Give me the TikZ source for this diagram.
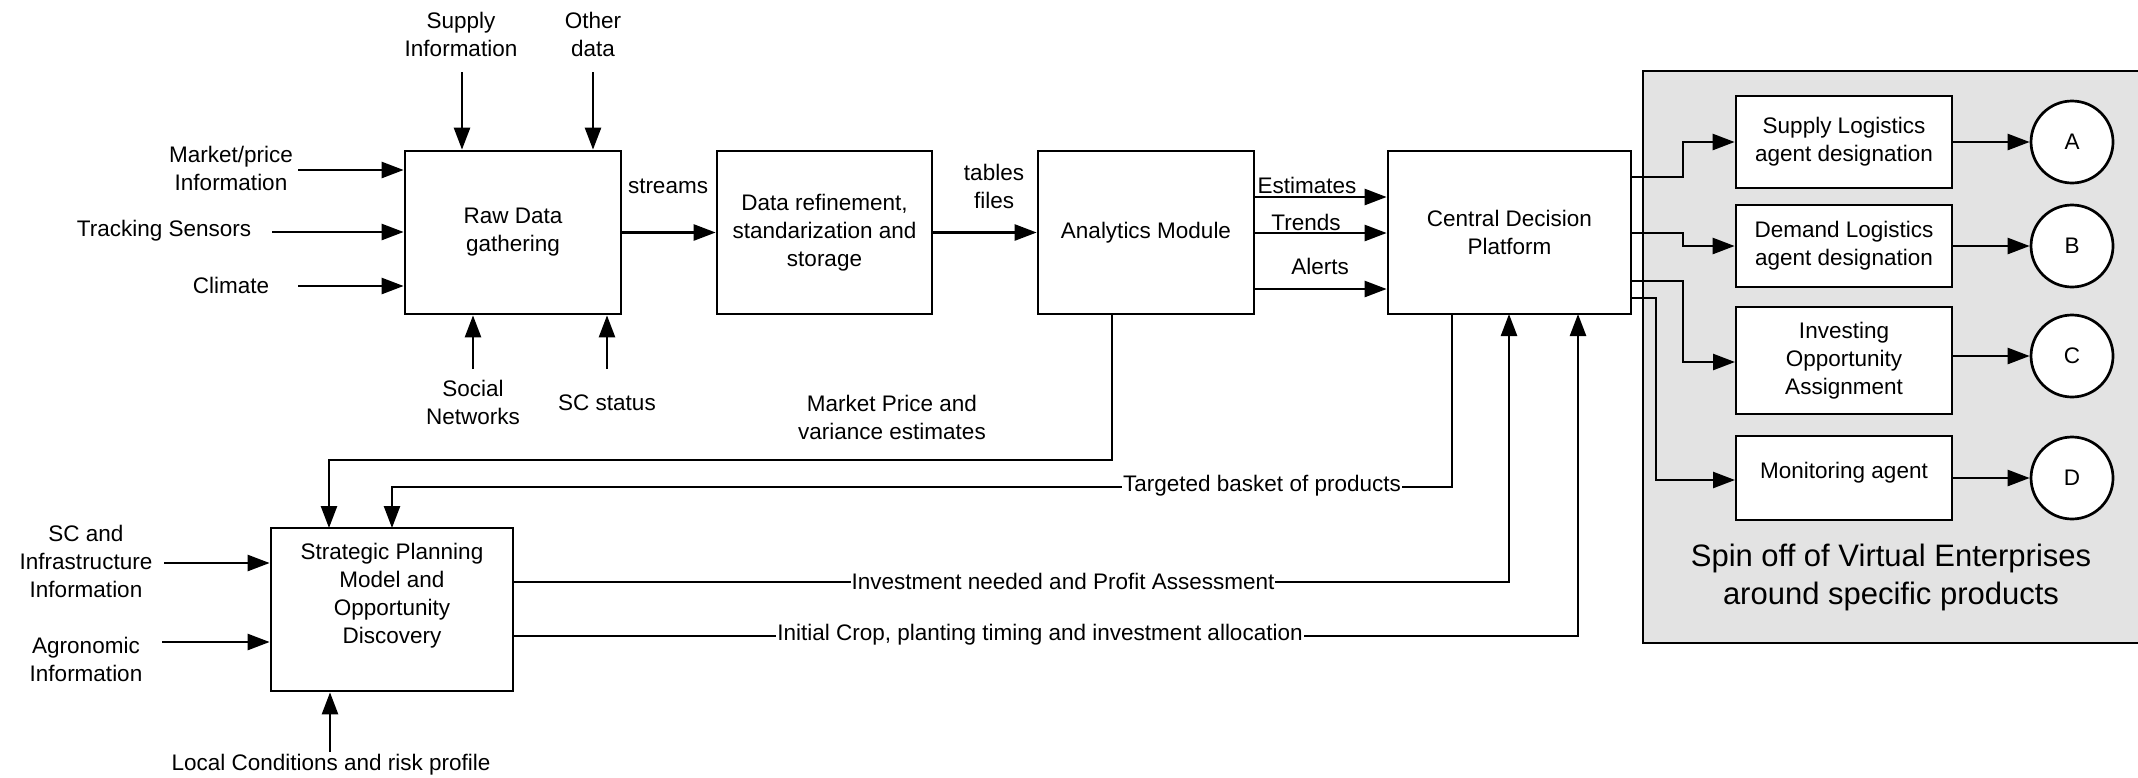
\documentclass[tikz,border=0pt]{standalone}
\usepackage{fontspec}
\setmainfont{Liberation Sans}
\usetikzlibrary{arrows.meta,positioning}
\definecolor{panelgrey}{HTML}{E3E3E3}
\tikzset{
  every node/.style={font=\fontsize{22.5}{28}\selectfont, inner sep=0pt},
  blk/.style={draw, line width=2.7pt, fill=white, align=center},
  circ/.style={draw, line width=2.7pt, fill=white, circle, minimum size=82pt},
  lbl/.style={align=center},
  arr/.style={line width=2.5pt, -{Triangle[length=22pt,width=16pt]}},
  ln/.style={line width=2.5pt},
  onl/.style={fill=white, inner xsep=1pt, inner ysep=2pt}
}
\begin{document}
\begin{tikzpicture}[x=1pt,y=-1pt]
\useasboundingbox (0,0) rectangle (2138,777);
% grey panel
\fill[panelgrey] (1643,71) rectangle (2138,643);
\draw[line width=2.7pt] (2140,71) -- (1643,71) -- (1643,643) -- (2140,643);
\node[lbl, font=\fontsize{31}{38}\selectfont] (spin) at (1891,577) {Spin off of Virtual Enterprises\\around specific products};

% main boxes
\node[blk, minimum width=216pt, minimum height=163pt] (raw) at (513,232.5) {Raw Data\\gathering};
\node[blk, minimum width=215pt, minimum height=163pt] (ref) at (824.5,232.5) {Data refinement,\\standarization and\\storage};
\node[blk, minimum width=216pt, minimum height=163pt] (ana) at (1146,232.5) {Analytics Module};
\node[blk, minimum width=243pt, minimum height=163pt] (cdp) at (1509.5,232.5) {Central Decision\\Platform};
\node[blk, minimum width=242pt, minimum height=163pt] (spm) at (392,609.5) {Strategic Planning\\Model and\\Opportunity\\Discovery\\[0.2em]};

% agent boxes
\node[blk, minimum width=216pt, minimum height=92pt] (sup) at (1844,142) {Supply Logistics\\agent designation};
\node[blk, minimum width=216pt, minimum height=82pt] (dem) at (1844,246) {Demand Logistics\\agent designation};
\node[blk, minimum width=216pt, minimum height=107pt] (inv) at (1844,360.5) {Investing\\Opportunity\\Assignment};
\node[blk, minimum width=216pt, minimum height=84pt] (mon) at (1844,478) {};
\node[lbl] (monl) at (1844,473) {Monitoring agent};
\node[circ] (A) at (2072,142) {A};
\node[circ] (B) at (2072,246) {B};
\node[circ] (C) at (2072,356) {C};
\node[circ] (D) at (2072,478) {D};

% input labels for raw data
\node[lbl] (mkt) at (231,168) {Market/price\\Information};
\node[lbl] (trk) at (164,231) {Tracking Sensors};
\node[lbl] (cli) at (231,285) {Climate};
\node[lbl] (supi) at (461,34) {Supply\\Information};
\node[lbl] (oth) at (593,34) {Other\\data};
\node[lbl] (soc) at (473,402) {Social\\Networks};
\node[lbl] (scs) at (607,403) {SC status};
\coordinate (mktS) at (298,170);
\coordinate (trkS) at (272,232);
\coordinate (cliS) at (298,286);
\coordinate (supS) at (462,72);
\coordinate (othS) at (593,72);
\coordinate (socS) at (473,369);
\coordinate (scsS) at (607,369);
\draw[arr] (mktS) -- (mktS -| raw.west);
\draw[arr] (trkS) -- (trkS -| raw.west);
\draw[arr] (cliS) -- (cliS -| raw.west);
\draw[arr] (supS) -- (supS |- raw.north);
\draw[arr] (othS) -- (othS |- raw.north);
\draw[arr] (socS) -- (socS |- raw.south);
\draw[arr] (scsS) -- (scsS |- raw.south);

% main flow
\draw[arr] (raw.east) -- (ref.west);
\node[lbl] (streams) at (668,186) {streams};
\draw[arr] (ref.east) -- (ana.west);
\node[lbl] (tables) at (994,186) {tables\\files};
\coordinate (e1) at (1254,197);
\coordinate (e2) at (1254,233);
\coordinate (e3) at (1254,289);
\draw[arr] (e1) -- (e1 -| cdp.west);
\draw[arr] (e2) -- (e2 -| cdp.west);
\draw[arr] (e3) -- (e3 -| cdp.west);
\node[lbl] (est) at (1307,185) {Estimates};
\node[lbl] (trn) at (1306,222) {Trends};
\node[lbl] (alr) at (1320,266) {Alerts};

% central to agents
\coordinate (o1) at (1630.5,177);
\coordinate (o2) at (1630.5,233);
\coordinate (o3) at (1630.5,281);
\coordinate (o4) at (1630.5,298);
\draw[ln,-{Triangle[length=22pt,width=16pt]}] (o1) -- (1683,177) -- (1683,142) -- (sup.west);
\draw[ln,-{Triangle[length=22pt,width=16pt]}] (o2) -- (1683,233) -- (1683,246) -- (dem.west);
\draw[ln,-{Triangle[length=22pt,width=16pt]}] (o3) -- (1683,281) -- (1683,362) -- (1735,362);
\draw[ln,-{Triangle[length=22pt,width=16pt]}] (o4) -- (1656,298) -- (1656,480) -- (1735,480);
\draw[arr] (sup.east) -- (A.west);
\draw[arr] (dem.east) -- (B.west);
\draw[arr] (1952,356) -- (C.west);
\draw[arr] (mon.east) -- (D.west);

% feedback loops
\draw[arr] (1112,314) -- (1112,460) -- (329,460) -- (329,528);
\node[lbl] (mpv) at (892,417) {Market Price and\\variance estimates};
\draw[arr] (1452,314) -- (1452,487) -- (392,487) -- (392,528);
\node[onl] (tb) at (1262,486) {Targeted basket of products};
\coordinate (s1) at (513,582);
\coordinate (s2) at (513,636);
\draw[arr] (s1) -- (1509,582) -- (1509,314);
\node[onl] (inn) at (1063,581) {Investment needed and Profit Assessment};
\draw[arr] (s2) -- (1578,636) -- (1578,314);
\node[onl] (icp) at (1040,635) {Initial Crop, planting timing and investment allocation};

% inputs to strategic
\node[lbl] (scinf) at (86,561) {SC and\\Infrastructure\\Information};
\node[lbl] (agr) at (86,659) {Agronomic\\Information};
\node[lbl] (loc) at (331,765) {Local Conditions and risk profile};
\coordinate (scS) at (164,563);
\coordinate (agS) at (162,642);
\coordinate (loS) at (330,752);
\draw[arr] (scS) -- (scS -| spm.west);
\draw[arr] (agS) -- (agS -| spm.west);
\draw[arr] (loS) -- (loS |- spm.south);
\end{tikzpicture}
\end{document}
